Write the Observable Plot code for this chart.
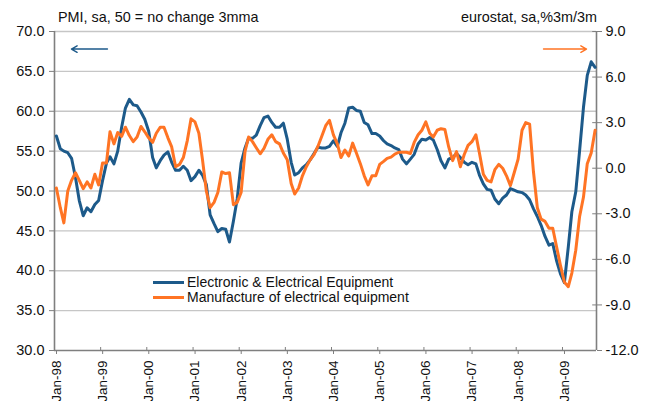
<!DOCTYPE html>
<html><head><meta charset="utf-8">
<script src="https://cdn.jsdelivr.net/npm/d3@7"></script>
<script src="https://cdn.jsdelivr.net/npm/@observablehq/plot@0.6"></script>
<style>body{margin:0;background:#fff;} #chart{position:relative;width:653px;height:401px;}</style>
</head><body><div id="chart"></div>
<script>
const startYear = 1998;
const seriesNames = ["Electronic & Electrical Equipment", "Manufacture of electrical equipment"];
const leftTitle = "PMI, sa, 50 = no change 3mma";
const rightTitle = "eurostat, sa,%3m/3m";
const leftTicks = [30, 35, 40, 45, 50, 55, 60, 65, 70];
const rightTicks = [-12, -9, -6, -3, 0, 3, 6, 9];
const tickYears = [1998, 1999, 2000, 2001, 2002, 2003, 2004, 2005, 2006, 2007, 2008, 2009];

// PMI Electronic & Electrical Equipment (left axis), monthly from Jan-98
const pmiElectronic = [
  56.9, 55.3, 55.0, 54.8, 54.1, 51.7, 48.8, 46.9, 47.9, 47.4, 48.3, 48.8,
  51.3, 53.5, 54.3, 53.4, 55.0, 58.0, 60.4, 61.5, 60.8, 60.7, 59.9, 59.0,
  57.5, 54.2, 52.9, 53.8, 54.5, 54.9, 53.6, 52.6, 52.6, 53.1, 52.6, 51.3,
  51.8, 52.6, 52.0, 50.8, 47.0, 45.9, 44.9, 45.3, 45.2, 43.6, 46.2, 49.0,
  53.5, 55.4, 56.6, 56.6, 57.0, 58.2, 59.2, 59.4, 58.6, 58.0, 58.0, 58.5,
  56.5, 53.6, 52.0, 52.3, 52.9, 53.3, 53.9, 54.7, 55.5, 55.4, 55.4, 55.6,
  56.3, 55.6, 57.3, 58.5, 60.4, 60.5, 60.1, 60.0, 58.6, 58.3, 57.2, 57.2,
  56.9, 56.3, 55.9, 55.7, 55.4, 55.2, 54.0, 53.4, 54.0, 54.6, 55.9, 56.5,
  56.4, 56.7, 56.4, 55.2, 53.8, 52.9, 54.0, 54.2, 54.7, 54.2, 53.6, 53.3,
  53.6, 53.4, 52.0, 50.9, 50.2, 50.1, 49.0, 48.4, 49.1, 49.5, 50.3, 50.1,
  49.9, 49.8, 49.5, 48.9, 47.8, 46.8, 45.7, 44.3, 43.2, 43.4, 41.2, 39.6,
  38.5, 43.0, 47.4, 49.9, 55.0, 60.5, 64.5, 66.2, 65.5
];

// Eurostat manufacture of electrical equipment, %3m/3m (right axis), monthly from Jan-98
const euroManufacture = [
  -1.3, -2.6, -3.6, -1.5, -0.8, -0.3, -0.8, -1.35, -0.9, -1.3, -0.4, -1.1,
  0.35, 0.35, 2.4, 1.6, 2.35, 2.1, 2.7, 2.15, 1.75, 2.05, 2.75, 2.4,
  2.0, 1.7, 2.3, 2.7, 2.7, 2.0, 1.4, 0.1, 0.25, 0.7, 1.8, 3.25,
  3.05, 2.3, 0.6, -1.5, -2.6, -2.25, -1.6, -0.25, -0.35, -0.3, -2.4, -2.25,
  -1.6, 1.1, 2.05, 1.75, 1.35, 0.95, 1.3, 1.9, 2.2, 1.75, 1.6, 1.0,
  0.55, -1.0, -1.7, -1.3, -0.5, 0.1, 0.55, 0.9, 1.45, 2.1, 2.8, 3.15,
  2.2, 1.6, 0.7, 1.2, 0.8, 1.65, 1.0, 0.3, -0.5, -1.1, -0.5, -0.5,
  0.25, 0.45, 0.65, 0.73, 0.93, 1.05, 1.05, 1.05, 0.97, 1.7, 2.2, 2.5,
  3.05, 2.3, 2.05, 2.5, 2.6, 2.55, 1.4, 0.5, 1.1, 0.1, 0.9, 1.5,
  1.75, 2.2, 1.0, -0.4, -0.8, -0.9, -0.1, 0.25, 0.0, -0.5, -1.15, -0.3,
  0.6, 2.5, 3.0, 2.9, -0.2, -2.6, -3.35, -3.5, -3.95, -3.95, -5.2, -6.4,
  -7.5, -7.8, -6.9, -5.4, -3.2, -1.9, 0.3, 1.0, 2.5
];

const colors = ["#1d5a8a", "#ff7424"];
const axisGray = "#7f7f7f";
const font = "'Liberation Sans', Arial, sans-serif";

const toLeft = v => 30 + (v + 12) * 40 / 21;
const fromLeft = y => (y - 30) * 21 / 40 - 12;
const fmt1 = v => (Math.round(v * 10) / 10 + 0).toFixed(1);

const monthDate = i => new Date(Date.UTC(startYear, i, 16));
const blueData = pmiElectronic.map((v, i) => ({date: monthDate(i), value: v}));
const orangeData = euroManufacture.map((v, i) => ({date: monthDate(i), value: toLeft(v)}));
const yearDates = tickYears.map(y => new Date(Date.UTC(y, 0, 1)));
const xStart = new Date(Date.UTC(1998, 0, 1));
const xEnd = new Date(Date.UTC(2009, 8, 27));

const arrows = [
  {x1: new Date(Date.UTC(1999, 1, 24)), x2: new Date(Date.UTC(1998, 4, 15)), y: 67.8, c: colors[0]},
  {x1: new Date(Date.UTC(2008, 7, 4)), x2: new Date(Date.UTC(2009, 6, 10)), y: 67.8, c: colors[1]}
];

const chart = Plot.plot({
  width: 653, height: 401,
  marginLeft: 54, marginRight: 57, marginTop: 31, marginBottom: 51,
  style: {fontFamily: font, fontSize: "13px", color: "#111", background: "#fff"},
  x: {type: "utc", domain: [xStart, xEnd]},
  y: {domain: [30, 70]},
  marks: [
    Plot.gridY(leftTicks.filter(d => d > 30), {stroke: "#c6c6c6", strokeOpacity: 1, strokeWidth: 1.3}),
    Plot.axisY(leftTicks, {anchor: "left", tickFormat: fmt1, tickSize: 5, tickPadding: 5, label: null, stroke: axisGray, fontSize: 14.5}),
    Plot.axisY(rightTicks.map(toLeft), {anchor: "right", tickFormat: d => fmt1(fromLeft(d)), tickSize: 5, tickPadding: 4, label: null, stroke: axisGray, fontSize: 14.5}),
    Plot.ruleY(rightTicks.map(toLeft), {x1: new Date(Date.UTC(2009, 7, 28)), x2: xEnd, stroke: axisGray}),
    Plot.axisX(yearDates, {anchor: "bottom", tickFormat: d3.utcFormat("%b-%y"), tickRotate: -90, tickSize: 4, tickPadding: 6, label: null, stroke: axisGray, fontSize: 13.5, dx: 2}),
    Plot.ruleX(yearDates, {y1: 30, y2: 30 + 3 / 7.975, stroke: axisGray}),
    Plot.ruleX([xStart], {stroke: axisGray, strokeWidth: 1.6}),
    Plot.ruleX([xEnd], {stroke: axisGray, strokeWidth: 1.6}),
    Plot.ruleY([30], {stroke: axisGray, strokeWidth: 1.6}),
    Plot.line(blueData, {x: "date", y: "value", stroke: colors[0], strokeWidth: 3, curve: "linear"}),
    Plot.line(orangeData, {x: "date", y: "value", stroke: colors[1], strokeWidth: 3, curve: "linear"}),
    Plot.arrow(arrows, {x1: "x1", x2: "x2", y1: "y", y2: "y", stroke: "c", strokeWidth: 1.4, headLength: 7, bend: 0})
  ]
});

document.getElementById("chart").appendChild(chart);

const svg = d3.select(chart);
svg.append("text").attr("x", 58).attr("y", 17).attr("dy", "0.35em").attr("text-anchor", "start")
  .attr("font-family", font).attr("font-size", 14.4).attr("fill", "#111").text(leftTitle);
svg.append("text").attr("x", 597).attr("y", 17).attr("dy", "0.35em").attr("text-anchor", "end")
  .attr("font-family", font).attr("font-size", 14.4).attr("fill", "#111").text(rightTitle);

const legend = svg.append("g");
seriesNames.forEach((name, i) => {
  const y = 282.5 + i * 15;
  legend.append("line").attr("x1", 153).attr("x2", 184).attr("y1", y).attr("y2", y)
    .attr("stroke", colors[i]).attr("stroke-width", 3);
  legend.append("text").attr("x", 187).attr("y", y).attr("dy", "0.35em").attr("text-anchor", "start")
    .attr("font-family", font).attr("font-size", 14).attr("fill", "#111").text(name);
});
</script>
</body></html>
